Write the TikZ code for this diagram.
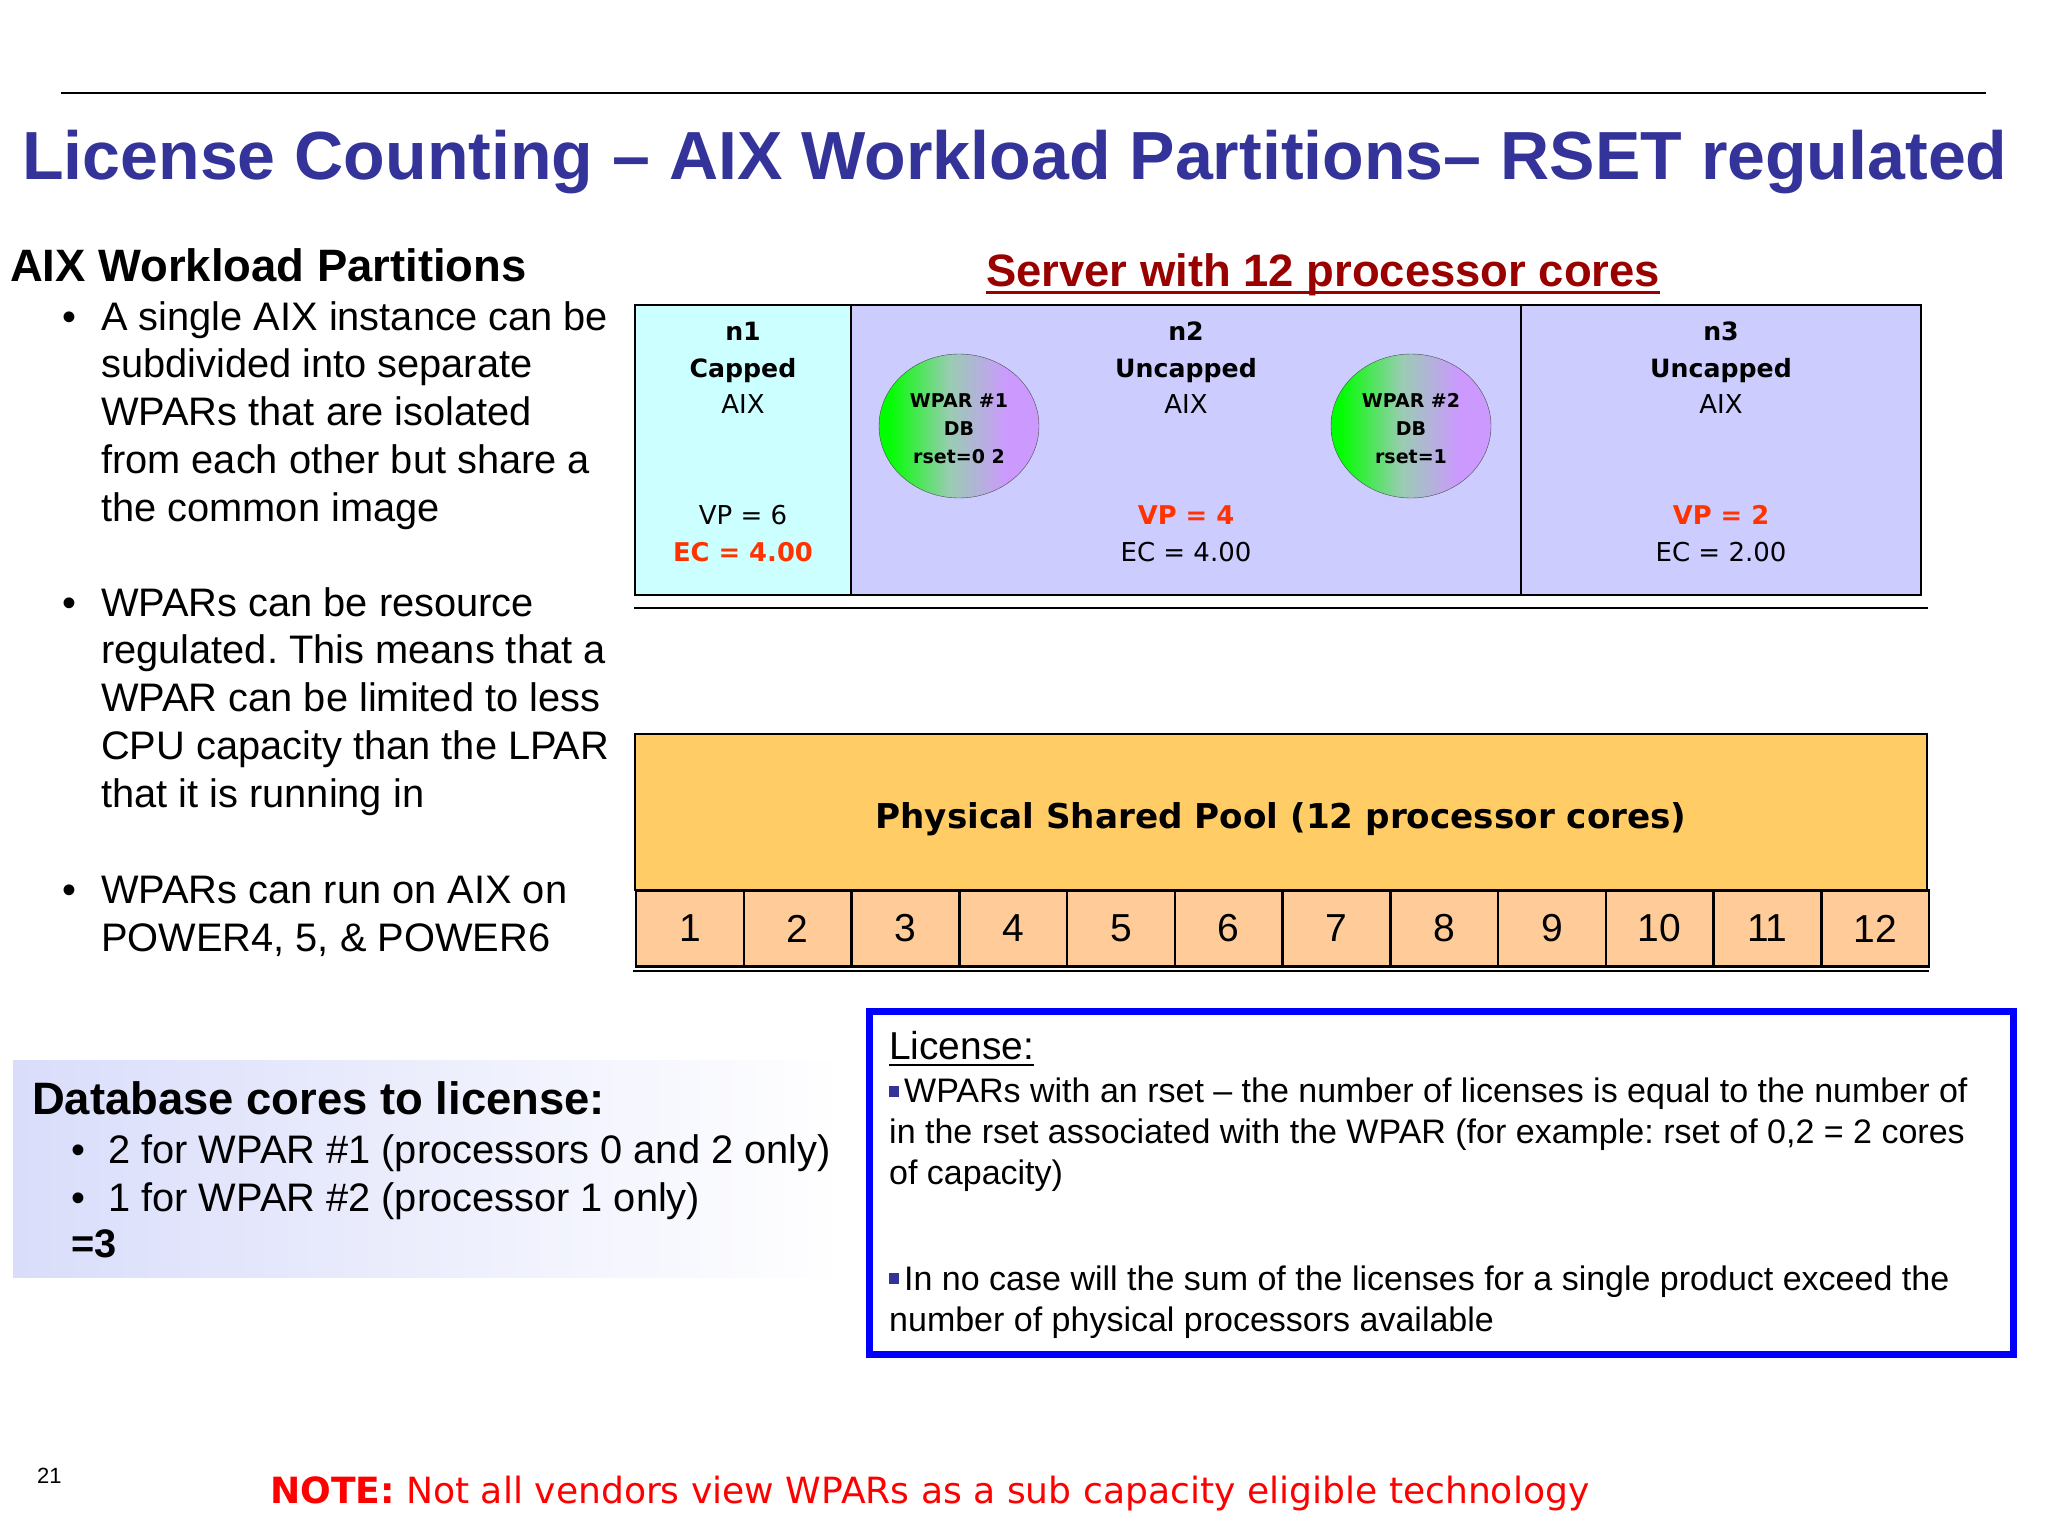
\documentclass[tikz,border=0pt]{standalone}
\usepackage{fontspec}
\setmainfont{Liberation Sans}
\newfontfamily\verdfont{DejaVu Sans}
\usetikzlibrary{positioning,shapes.geometric}
\AtBeginDocument{\frenchspacing}
\definecolor{title blue}{HTML}{333399}
\definecolor{server red}{HTML}{990000}
\definecolor{capped area}{HTML}{CCFFFF}
\definecolor{uncapped area}{HTML}{CCCCFF}
\definecolor{pool area}{HTML}{FFCC66}
\definecolor{core area}{HTML}{FFCC99}
\definecolor{wpar green}{HTML}{00FF00}
\definecolor{wpar violet}{HTML}{CC99FF}
\definecolor{wpar mid}{HTML}{99CCB2}
\definecolor{db area}{HTML}{D9DDFA}
\definecolor{hot text}{HTML}{FF3300}
\pgfdeclarehorizontalshading{wpar shade}{100bp}{color(0bp)=(wpar green); color(28bp)=(wpar green);
    color(47bp)=(wpar mid); color(65bp)=(wpar violet); color(100bp)=(wpar violet)}
\newcommand\titlesize{\fontsize{68.1}{80}\bfseries\selectfont}
\newcommand\headsize{\fontsize{45.4}{54}\bfseries\selectfont}
\newcommand\bodysize{\fontsize{39.8}{47.8}\selectfont}
\newcommand\licsize{\fontsize{34}{41}\selectfont}
\newcommand\partsize{\verdfont\fontsize{26}{36.8}\selectfont}
\newcommand\partbold{\verdfont\fontsize{25.2}{36.8}\bfseries\selectfont}
\newcommand\sqb{{\color{title blue}\rule[6pt]{10pt}{11pt}}\hspace{5pt}}
\tikzset{x=1pt,y=-1pt,
    plain text/.style={inner sep=0pt,anchor=base west,align=left},
    para/.style={inner sep=0pt,anchor=north west,align=left,font=\bodysize},
    part box/.style={draw=black,line width=2.5pt,outer sep=0pt,anchor=north west,minimum height=290pt,inner sep=0pt},
    part text/.style={inner sep=0pt,anchor=base,align=center,font=\partsize},
    part name/.style={inner sep=0pt,anchor=base,align=center,font=\partbold},
    hot/.style={text=hot text,font=\verdfont\fontsize{25.8}{36.8}\bfseries\selectfont},
    wpar/.style={ellipse,draw=black!70,shading=wpar shade,
        minimum width=160pt,minimum height=144pt,inner sep=0pt},
    wpar text/.style={inner sep=0pt,align=center,font=\verdfont\fontsize{19}{28}\bfseries\selectfont},
    core/.style={draw=black,line width=2.5pt,outer sep=0pt,fill=core area,anchor=north west,minimum width=107.75pt,
        minimum height=76pt,inner sep=0pt,font=\fontsize{39}{46}\selectfont},
    rule line/.style={draw=black,line width=2.5pt}}
\begin{document}
\begin{tikzpicture}
    \useasboundingbox (0,0) rectangle (2048,1536);
    % heading
    \coordinate (ruleL) at (61,93);
    \coordinate (ruleR) at (1986,93);
    \draw[black,line width=1.6pt] (ruleL) -- (ruleR);
    \node[plain text,text=title blue,font=\titlesize] (title) at (22,179)
        {License Counting -- AIX Workload Partitions-- RSET regulated};
    % left column
    \node[plain text,font=\headsize] (aixhead) at (10,281) {AIX Workload Partitions};
    \node[para] (parA) at (101,296.5) {\strut A single AIX instance can be\\subdivided into separate\\WPARs that are isolated\\from each other but share a\\the common image};
    \node[para] (parB) at (101,582.5) {\strut WPARs can be resource\\regulated. This means that a\\WPAR can be limited to less\\CPU capacity than the LPAR\\that it is running in};
    \node[para] (parC) at (101,870) {\strut WPARs can run on AIX on\\POWER4, 5, \& POWER6};
    \foreach \p in {parA,parB,parC}
        \node[para,anchor=north] at ([xshift=-32pt]\p.north west) {\strut\textbullet};
    % server
    \node[plain text,text=server red,font=\headsize] (server) at (986,286) {Server with 12 processor cores};
    \draw[server red,line width=3.5pt] ([yshift=-6.5pt]server.base west) -- ([yshift=-6.5pt]server.base east);
    \node[part box,fill=capped area,minimum width=216pt] (n1) at (635,305) {};
    \node[part box,fill=uncapped area,minimum width=670pt] (n2) at (851,305) {};
    \node[part box,fill=uncapped area,minimum width=400pt] (n3) at (1521,305) {};
    \node[part name] (n1name) at (743,340) {n1};
    \node[part name] (n1mode) at (743,377) {Capped};
    \node[part text] (n1os) at (743,413) {AIX};
    \node[part text] (n1vp) at (743,524) {VP = 6};
    \node[part text,hot] (n1ec) at (743,561) {EC = 4.00};
    \node[part name] (n2name) at (1186,340) {n2};
    \node[part name] (n2mode) at (1186,377) {Uncapped};
    \node[part text] (n2os) at (1186,413) {AIX};
    \node[part text,hot] (n2vp) at (1186,524) {VP = 4};
    \node[part text] (n2ec) at (1186,561) {EC = 4.00};
    \node[part name] (n3name) at (1721,340) {n3};
    \node[part name] (n3mode) at (1721,377) {Uncapped};
    \node[part text] (n3os) at (1721,413) {AIX};
    \node[part text,hot] (n3vp) at (1721,524) {VP = 2};
    \node[part text] (n3ec) at (1721,561) {EC = 2.00};
    \node[wpar] (wparA) at (959,426) {};
    \node[wpar] (wparB) at (1411,426) {};
    \node[wpar text] (wparAtext) at ([yshift=-2.5pt]wparA.center) {WPAR \#1\\DB\\rset=0 2};
    \node[wpar text] (wparBtext) at ([yshift=-2.5pt]wparB.center) {WPAR \#2\\DB\\rset=1};
    \coordinate (sepL) at (634,608);
    \coordinate (sepR) at (1928,608);
    \draw[rule line] (sepL) -- (sepR);
    % pool
    \node[draw=black,line width=2.5pt,outer sep=0pt,fill=pool area,anchor=north west,minimum width=1292pt,minimum height=156pt,inner sep=0pt] (pool) at (635,734) {};
    \node[inner sep=0pt,font=\verdfont\fontsize{34.2}{40}\bfseries\selectfont] (poolname) at (1281,819) {Physical Shared Pool (12 processor cores)};
    \foreach \i in {1,...,12}
        \node[core] (core\i) at ({636+(\i-1)*107.75},890.5) {\i};
    \coordinate (baseL) at (633,971);
    \coordinate (baseR) at (1929,971);
    \draw[draw=black,line width=2pt] (baseL) -- (baseR);
    % database box
    \node[left color=db area,right color=white,anchor=north west,minimum width=830pt,minimum height=217pt,inner sep=0pt] (dbbox) at (13,1060) {};
    \node[plain text,font=\headsize] (dbhead) at (32,1114) {Database cores to license:};
    \node[plain text,font=\bodysize] (dbA) at (108,1163) {2 for WPAR \#1 (processors 0 and 2 only)};
    \node[plain text,font=\bodysize] (dbB) at (108,1211) {1 for WPAR \#2 (processor 1 only)};
    \node[plain text,font=\bodysize\bfseries] (dbC) at (71,1257) {=3};
    \node[plain text,font=\bodysize] at (71,1163) {\textbullet};
    \node[plain text,font=\bodysize] at (71,1211) {\textbullet};
    % license box
    \node[draw=blue,line width=6.5pt,outer sep=0pt,anchor=north west,minimum width=1144pt,minimum height=343pt,inner sep=0pt] (licbox) at (869.5,1011.5) {};
    \node[plain text,font=\fontsize{38.9}{46}\selectfont] (lichead) at (889,1059) {License:};
    \draw[black,line width=2pt] ([yshift=-6pt]lichead.base west) -- ([yshift=-6pt]lichead.base east);
    \node[plain text,font=\licsize] (licA) at (889,1102.5) {\sqb WPARs with an rset -- the number of licenses is equal to the number of};
    \node[plain text,font=\licsize] (licB) at (889,1143) {in the rset associated with the WPAR (for example: rset of 0,2 = 2 cores};
    \node[plain text,font=\licsize] (licC) at (889,1184) {of capacity)};
    \node[plain text,font=\licsize] (licD) at (889,1290) {\sqb In no case will the sum of the licenses for a single product exceed the};
    \node[plain text,font=\licsize] (licE) at (889,1331) {number of physical processors available};
    % footer
    \node[plain text,font=\fontsize{22}{26}\selectfont] (page) at (37,1483) {21};
    \node[plain text,text=red,font=\verdfont\fontsize{36.1}{42}\selectfont] (note) at (270,1503) {\textbf{NOTE:} Not all vendors view WPARs as a sub capacity eligible technology};
\end{tikzpicture}
\end{document}
